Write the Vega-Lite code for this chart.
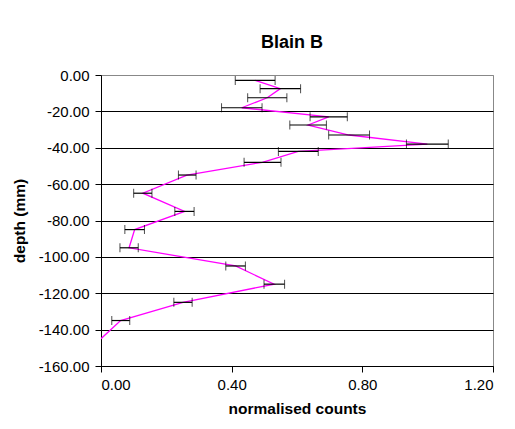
{
  "$schema": "https://vega.github.io/schema/vega-lite/v6.json",
  "width": 392,
  "height": 291,
  "autosize": "none",
  "padding": {"left": 101, "top": 75, "right": 22, "bottom": 63},
  "background": "white",
  "config": {
    "font": "Liberation Sans",
    "view": {"stroke": "#888888", "strokeWidth": 1},
    "axis": {
      "labelFont": "Liberation Sans",
      "titleFont": "Liberation Sans",
      "labelFontSize": 15,
      "titleFontSize": 15.5,
      "titleFontWeight": "bold",
      "labelColor": "#000000",
      "titleColor": "#000000",
      "domainColor": "#000000",
      "tickColor": "#000000",
      "domainWidth": 1,
      "tickWidth": 1,
      "tickSize": 6,
      "labelOverlap": false
    }
  },
  "title": {
    "text": "Blain B",
    "font": "Liberation Sans",
    "fontSize": 18,
    "fontWeight": "bold",
    "color": "#000000",
    "anchor": "middle",
    "offset": 16,
    "dx": -5
  },
  "data": {
    "values": [
      {"depth": -3, "value": 0.472, "lo": 0.411, "hi": 0.533},
      {"depth": -7.5, "value": 0.549, "lo": 0.487, "hi": 0.611},
      {"depth": -12.5, "value": 0.509, "lo": 0.449, "hi": 0.569},
      {"depth": -18, "value": 0.431, "lo": 0.369, "hi": 0.493},
      {"depth": -23, "value": 0.697, "lo": 0.640, "hi": 0.754},
      {"depth": -27.5, "value": 0.634, "lo": 0.578, "hi": 0.690},
      {"depth": -33, "value": 0.759, "lo": 0.697, "hi": 0.822},
      {"depth": -38, "value": 0.999, "lo": 0.935, "hi": 1.063},
      {"depth": -42, "value": 0.604, "lo": 0.543, "hi": 0.665},
      {"depth": -48, "value": 0.494, "lo": 0.438, "hi": 0.551},
      {"depth": -55, "value": 0.263, "lo": 0.237, "hi": 0.291},
      {"depth": -65, "value": 0.128, "lo": 0.100, "hi": 0.156},
      {"depth": -75, "value": 0.256, "lo": 0.226, "hi": 0.285},
      {"depth": -85, "value": 0.103, "lo": 0.073, "hi": 0.133},
      {"depth": -95, "value": 0.086, "lo": 0.058, "hi": 0.114},
      {"depth": -105, "value": 0.412, "lo": 0.382, "hi": 0.442},
      {"depth": -115, "value": 0.530, "lo": 0.499, "hi": 0.562},
      {"depth": -125, "value": 0.251, "lo": 0.223, "hi": 0.279},
      {"depth": -135, "value": 0.060, "lo": 0.033, "hi": 0.088},
      {"depth": -145, "value": 0.0, "lo": null, "hi": null}
    ]
  },
  "layer": [
    {
      "mark": {"type": "line", "color": "#FF00FF", "strokeWidth": 1.3, "clip": true},
      "encoding": {
        "x": {
          "field": "value", "type": "quantitative",
          "scale": {"domain": [0, 1.2], "nice": false},
          "axis": {
            "title": "normalised counts",
            "values": [0, 0.4, 0.8, 1.2],
            "labelExpr": "format(datum.value, '.2f')",
            "grid": false,
            "labelPadding": 5,
            "titlePadding": 9
          }
        },
        "y": {
          "field": "depth", "type": "quantitative",
          "scale": {"domain": [-160, 0], "nice": false},
          "axis": {
            "title": "depth (mm)",
            "values": [0, -20, -40, -60, -80, -100, -120, -140, -160],
            "labelExpr": "replace(format(datum.value, '.2f'), '\u2212', '-')",
            "grid": true,
            "gridColor": {"condition": {"test": "datum.value === 0", "value": "#888888"}, "value": "#000000"},
            "gridWidth": 1,
            "gridOpacity": 1,
            "labelPadding": 6,
            "titlePadding": 11
          }
        },
        "order": {"field": "depth", "sort": "descending"}
      }
    },
    {
      "transform": [{"filter": "datum.lo != null"}],
      "mark": {
        "type": "errorbar",
        "color": "#000000",
        "ticks": {"size": 9, "strokeWidth": 1.2},
        "rule": {"strokeWidth": 1.2}
      },
      "encoding": {
        "x": {
          "field": "lo", "type": "quantitative",
          "scale": {"domain": [0, 1.2], "nice": false},
          "axis": {
            "title": "normalised counts",
            "values": [0, 0.4, 0.8, 1.2],
            "labelExpr": "format(datum.value, '.2f')",
            "grid": false,
            "labelPadding": 5,
            "titlePadding": 9
          }
        },
        "x2": {"field": "hi"},
        "y": {
          "field": "depth", "type": "quantitative",
          "scale": {"domain": [-160, 0], "nice": false},
          "axis": {
            "title": "depth (mm)",
            "values": [0, -20, -40, -60, -80, -100, -120, -140, -160],
            "labelExpr": "replace(format(datum.value, '.2f'), '\u2212', '-')",
            "grid": true,
            "gridColor": {"condition": {"test": "datum.value === 0", "value": "#888888"}, "value": "#000000"},
            "gridWidth": 1,
            "gridOpacity": 1,
            "labelPadding": 6,
            "titlePadding": 11
          }
        }
      }
    }
  ]
}
